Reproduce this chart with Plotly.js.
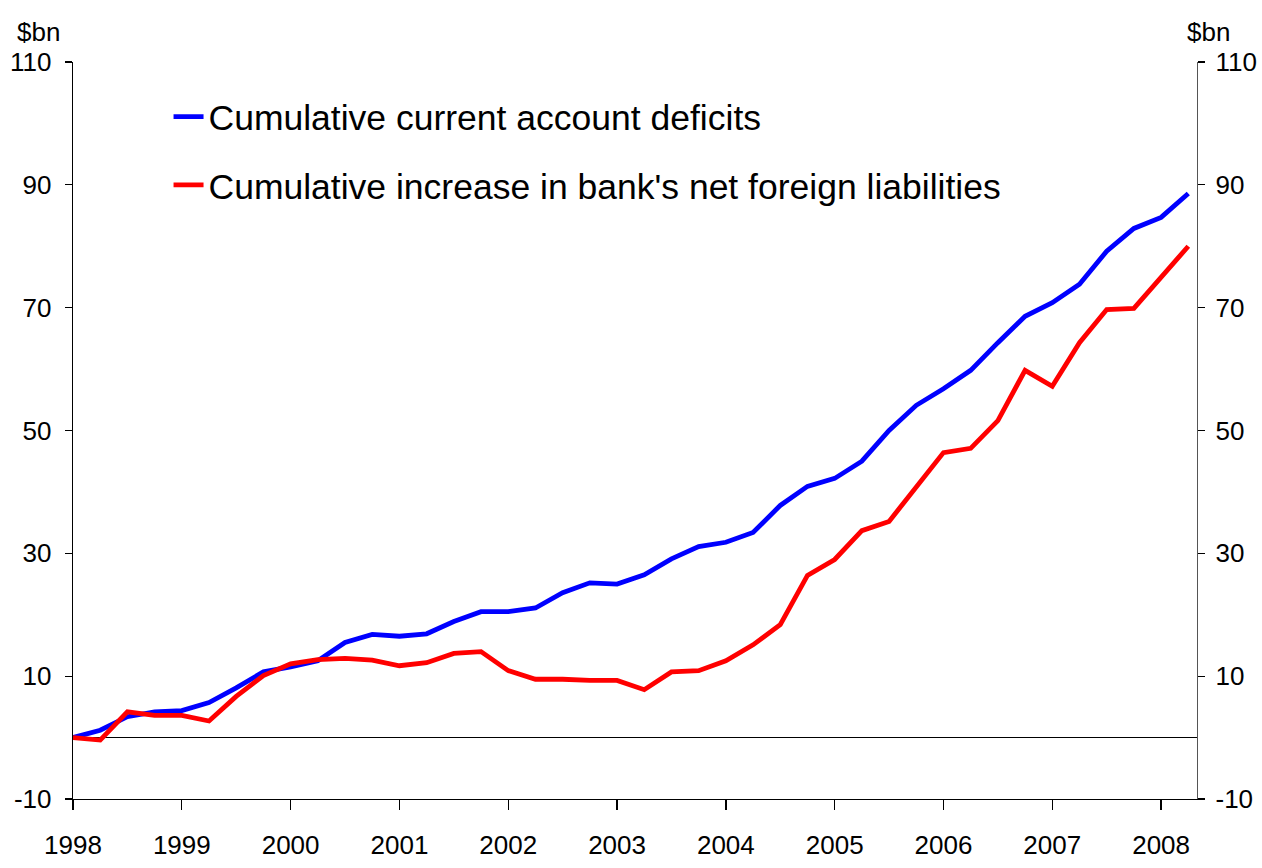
<!DOCTYPE html>
<html>
<head>
<meta charset="utf-8">
<script src="https://cdn.plot.ly/plotly-3.0.1.min.js"></script>
<style>html,body{margin:0;padding:0;background:#fff;}#chart{width:1262px;height:868px;}</style>
</head>
<body>
<div id="chart"></div>
<script>
// Quarterly observations, 1998 Q1 .. 2008 Q2 (year fractions)
const startYear = 1998;
const nQuarters = 42;
const quarters = Array.from({length: nQuarters}, (_, i) => startYear + i * 0.25);

const seriesNames = ["Cumulative current account deficits", "Cumulative increase in bank's net foreign liabilities"];

const currentAccount = [
  0, 1.2, 3.4, 4.2, 4.4, 5.7, 8.1, 10.7, 11.5, 12.5,
  15.5, 16.8, 16.5, 16.9, 18.9, 20.5, 20.5, 21.1, 23.6, 25.2,
  25.0, 26.5, 29.1, 31.1, 31.8, 33.4, 37.8, 40.9, 42.2, 45.0,
  50.0, 54.1, 56.8, 59.8, 64.3, 68.6, 70.8, 73.8, 79.2, 82.9,
  84.7, 88.6
];
const bankLiabilities = [
  0, -0.4, 4.2, 3.6, 3.6, 2.7, 6.7, 10.1, 12.0, 12.7,
  12.9, 12.6, 11.7, 12.2, 13.7, 14.0, 10.9, 9.5, 9.5, 9.3,
  9.3, 7.8, 10.7, 10.9, 12.5, 15.1, 18.4, 26.4, 29.0, 33.7,
  35.2, 40.9, 46.4, 47.1, 51.6, 59.8, 57.2, 64.3, 69.7, 69.9,
  74.9, 80.0
];

const xTickVals = [1998, 1999, 2000, 2001, 2002, 2003, 2004, 2005, 2006, 2007, 2008];
const xTickText = ["1998", "1999", "2000", "2001", "2002", "2003", "2004", "2005", "2006", "2007", "2008"];
const yTickVals = [-10, 10, 30, 50, 70, 90, 110];
const yTickText = ["-10", "10", "30", "50", "70", "90", "110"];
const unitLabel = "$bn";

const FONT = "'Liberation Sans Narrow', 'Arial Narrow', 'Liberation Sans', Arial, sans-serif";

const traces = [
  {x: quarters, y: currentAccount, name: seriesNames[0], type: "scatter", mode: "lines",
   legendgroup: "a", line: {color: "#0000ff", width: 4.8}},
  {x: quarters, y: bankLiabilities, name: seriesNames[1], type: "scatter", mode: "lines",
   legendgroup: "b", line: {color: "#ff0000", width: 4.8}},
  {x: quarters, y: currentAccount, yaxis: "y2", type: "scatter", mode: "lines",
   line: {width: 0}, showlegend: false, hoverinfo: "skip", opacity: 0}
];

const commonY = {
  range: [-10, 110], tickvals: yTickVals, ticktext: yTickText,
  showgrid: false, showline: true, linecolor: "#000", linewidth: 1.3,
  ticks: "outside", ticklen: 7, tickwidth: 1.3, tickcolor: "#000",
  tickfont: {family: FONT, size: 26, color: "#000"}, zeroline: false
};

const layout = {
  width: 1262, height: 868,
  margin: {l: 73, r: 65, t: 62, b: 69, pad: 0},
  paper_bgcolor: "#fff", plot_bgcolor: "#fff",
  font: {family: FONT, color: "#000"},
  xaxis: {
    range: [1998, 2008.33], tickvals: xTickVals, ticktext: xTickText,
    showgrid: false, showline: true, linecolor: "#000", linewidth: 1.3,
    ticks: "outside", ticklen: 10, tickwidth: 1.3, tickcolor: "#000",
    ticklabelstandoff: 12,
    tickfont: {family: FONT, size: 26, color: "#000"}, zeroline: false
  },
  yaxis: Object.assign({}, commonY, {side: "left", ticklabelstandoff: 8,
    zeroline: true, zerolinecolor: "#000", zerolinewidth: 1.5}),
  yaxis2: Object.assign({}, commonY, {side: "right", overlaying: "y", linecolor: "#555",
    ticklabelstandoff: 5}),
  showlegend: true,
  legend: {
    x: 0.085, y: 0.966, xanchor: "left", yanchor: "top",
    traceorder: "grouped", tracegroupgap: 19,
    bgcolor: "rgba(0,0,0,0)", borderwidth: 0,
    font: {family: FONT, size: 35.5, color: "#000"}
  },
  annotations: [
    {text: unitLabel, xref: "paper", yref: "paper", x: -0.031, y: 1.041, xanchor: "center", yanchor: "middle",
     showarrow: false, font: {family: FONT, size: 26, color: "#000"}},
    {text: unitLabel, xref: "paper", yref: "paper", x: 1.0098, y: 1.041, xanchor: "center", yanchor: "middle",
     showarrow: false, font: {family: FONT, size: 26, color: "#000"}}
  ]
};

Plotly.newPlot("chart", traces, layout, {staticPlot: true, displayModeBar: false});
</script>
</body>
</html>
